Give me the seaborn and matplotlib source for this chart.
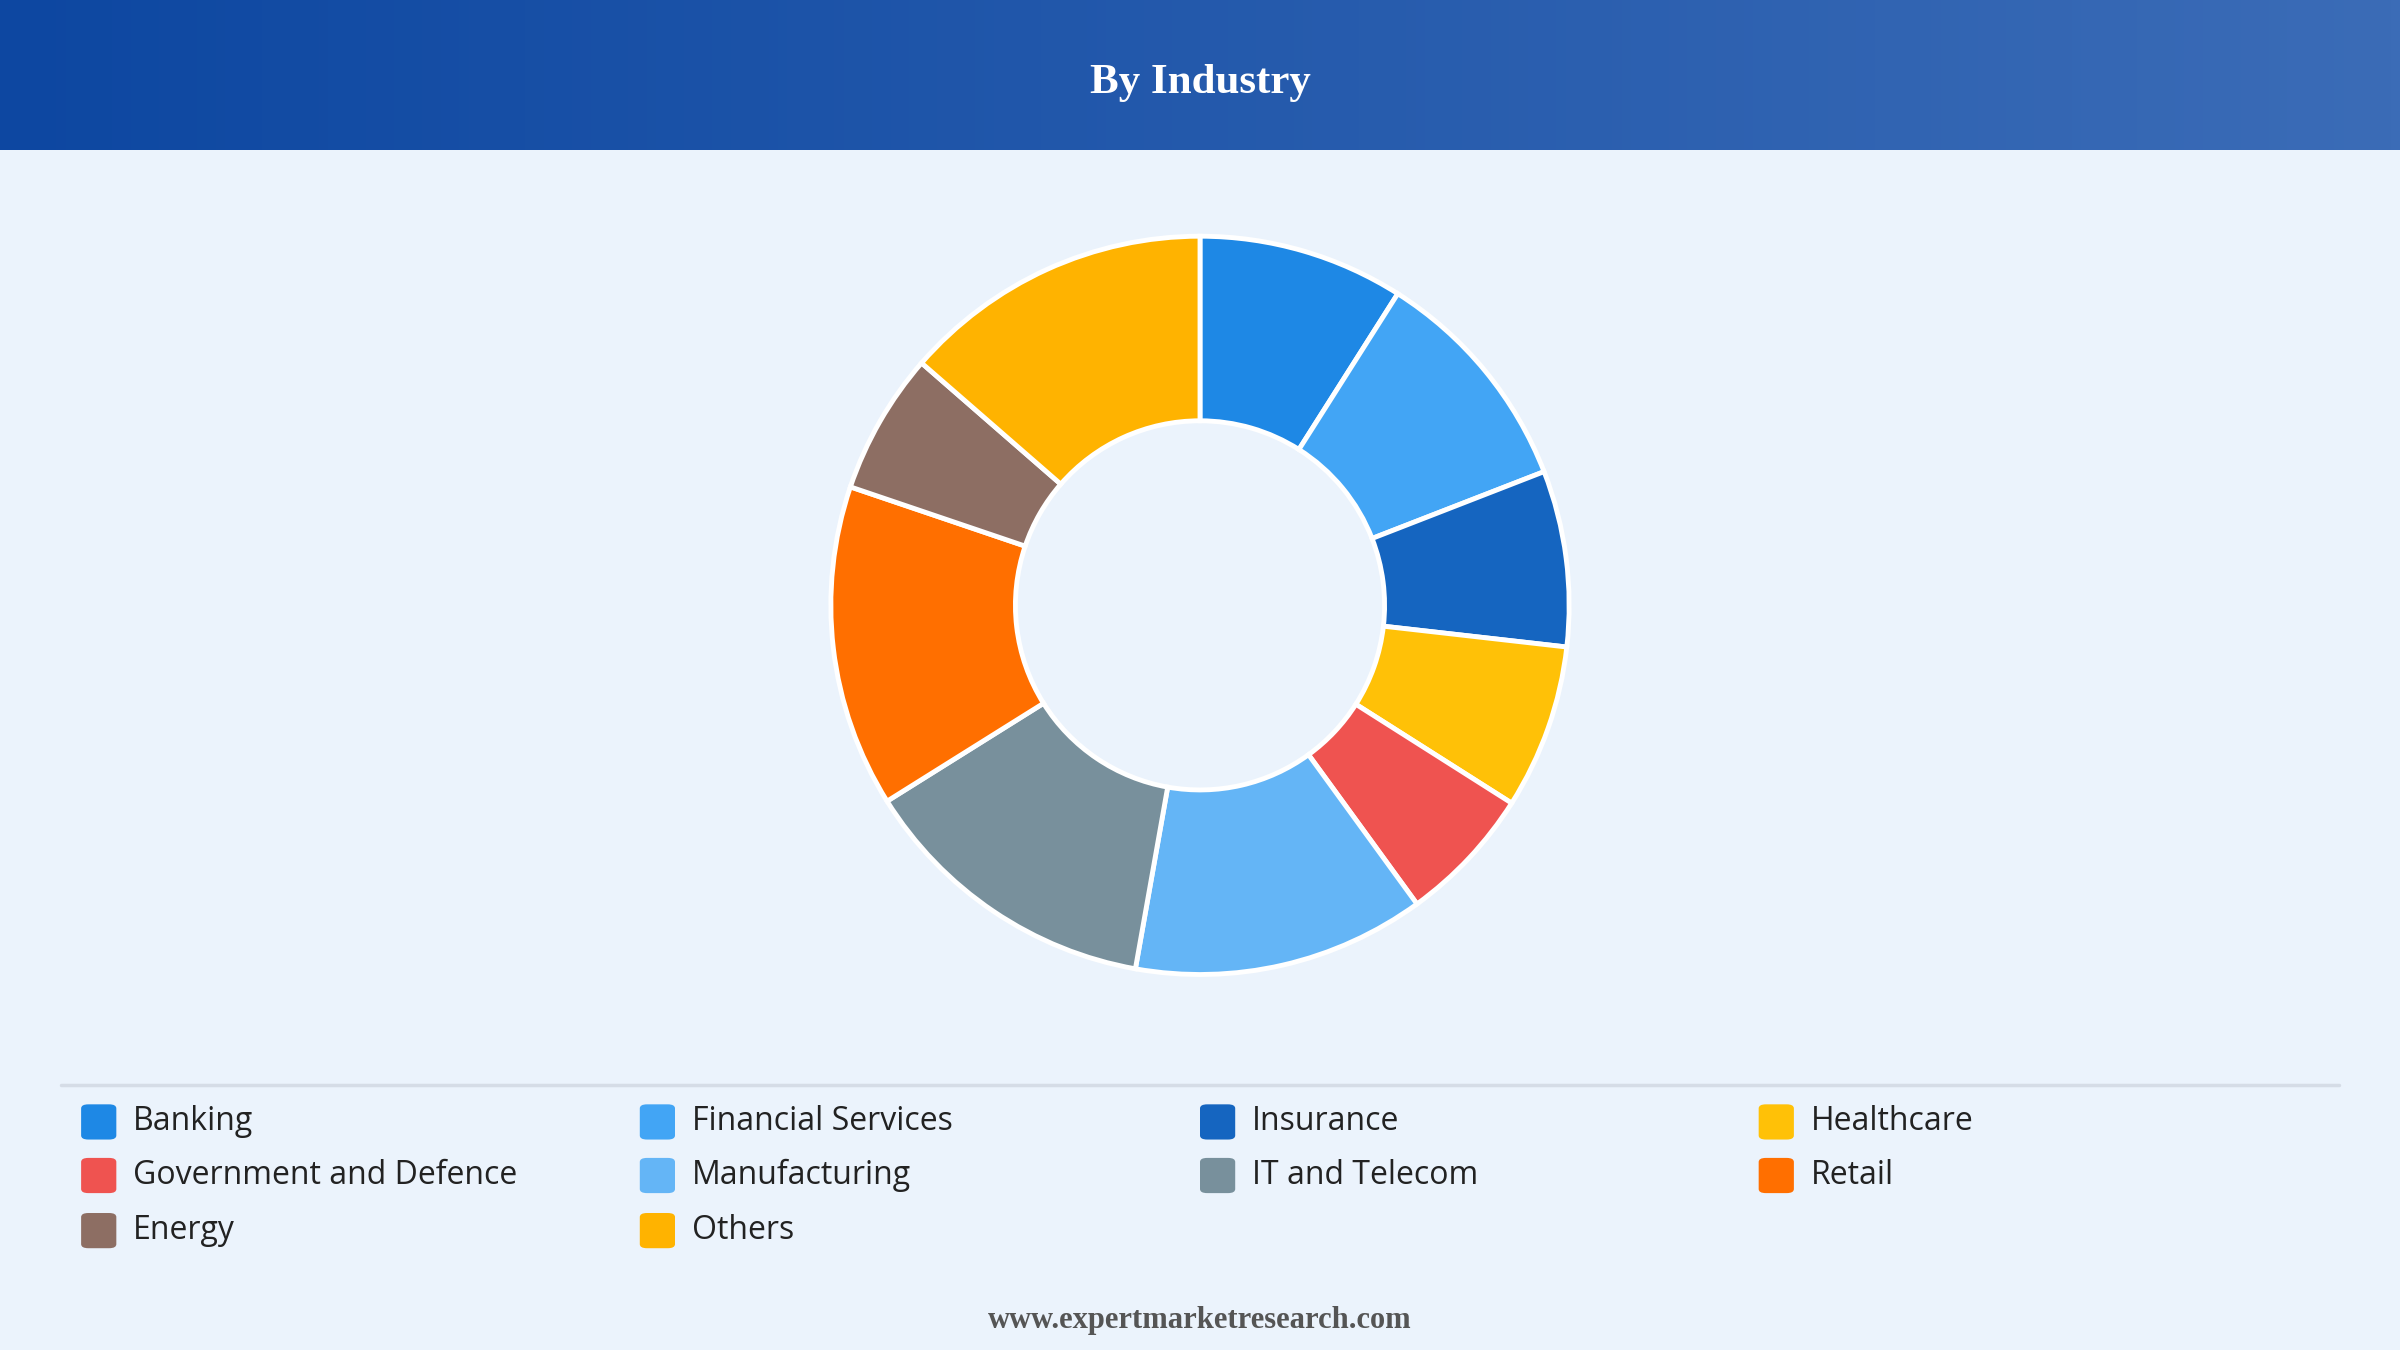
import numpy as np
import matplotlib
matplotlib.use("Agg")
import matplotlib.pyplot as plt
import seaborn as sns
from matplotlib.patches import FancyBboxPatch

sns.set_theme(style="white")
plt.rcParams['font.family'] = ['Open Sans', 'DejaVu Sans']

# data (share in %)
industries = ['Banking', 'Financial Services', 'Insurance', 'Healthcare',
              'Government and Defence', 'Manufacturing', 'IT and Telecom',
              'Retail', 'Energy', 'Others']
shares = [9.0, 10.1, 7.7, 7.2, 6.0, 12.8, 13.3, 14.1, 6.2, 13.6]
colors = ['#1E88E5', '#42A5F5', '#1565C0', '#FFC107', '#EF5350',
          '#64B5F6', '#78909C', '#FF6F00', '#8D6E63', '#FFB300']

bg = '#EBF3FC'
fig = plt.figure(figsize=(24, 13.5), dpi=100, facecolor=bg)

# header band with gradient
hax = fig.add_axes([0, 1 - 98 / 882, 1, 98 / 882])
grad = np.linspace(0, 1, 256).reshape(1, -1)
cmap = matplotlib.colors.LinearSegmentedColormap.from_list('hdr', ['#0D47A1', '#3B6CB7'])
hax.imshow(grad, aspect='auto', cmap=cmap, extent=[0, 1, 0, 1])
hax.set_axis_off()
hax.text(0.5, 0.45, 'By Industry', ha='center', va='center', color='white',
         fontsize=31, fontweight='bold', family=['Liberation Serif', 'DejaVu Serif'])

# donut
h = 2 * 246 / 882
w = h * 13.5 / 24
ax = fig.add_axes([0.5 - w / 2, 1 - 395.5 / 882 - h / 2, w, h])
ax.pie(shares, colors=colors, startangle=90, counterclock=False, radius=1,
       wedgeprops=dict(width=0.5, edgecolor='white', linewidth=3.5))
ax.set_xlim(-1.02, 1.02)
ax.set_ylim(-1.02, 1.02)
ax.set_aspect('equal')
ax.set_axis_off()

# separator line
fig.add_artist(plt.Line2D([40 / 1568, 1528 / 1568], [1 - 709 / 882] * 2,
                          color='#D5DCE6', lw=2.5))

# legend
col_x = [53, 418, 784, 1149]
row_y = [733, 768, 804]
for i, (name, c) in enumerate(zip(industries, colors)):
    x = col_x[i % 4] / 1568
    y = 1 - row_y[i // 4] / 882
    sw, sh = 23 / 1568, 23 / 882
    fig.add_artist(FancyBboxPatch((x, y - sh / 2), sw, sh,
                                  boxstyle='round,pad=0,rounding_size=0.003',
                                  transform=fig.transFigure, facecolor=c, edgecolor='none'))
    fig.text(x + 34 / 1568, y, name, ha='left', va='center', fontsize=23, color='#222222')

fig.text(0.5, 1 - 863 / 882, 'www.expertmarketresearch.com', ha='center', va='center',
         fontsize=22, fontweight='bold', color='#555555',
         family=['Liberation Serif', 'DejaVu Serif'])

fig.savefig('out.png', dpi=100, facecolor=bg)
